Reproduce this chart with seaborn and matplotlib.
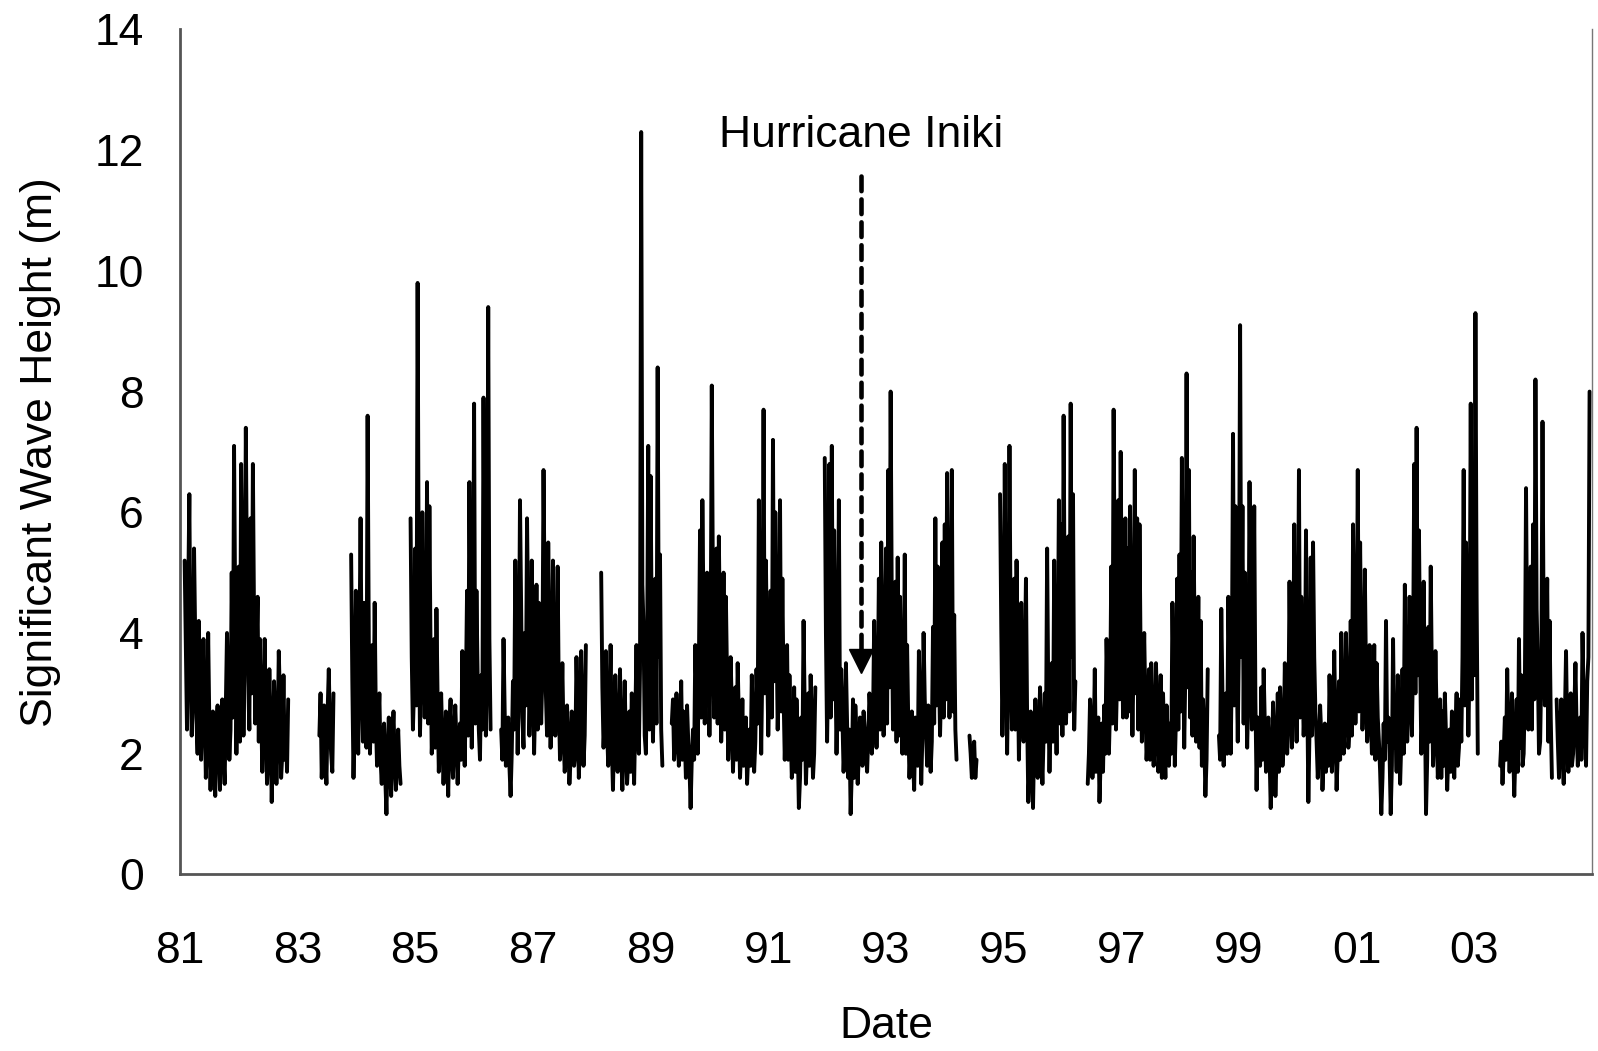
import numpy as np
import pandas as pd
import seaborn as sns
import matplotlib.pyplot as plt

# wave record, one short list per unbroken stretch of data
# (start as decimal year since 1900, values in m, main points 0.04 yr apart,
#  the mid_ lists hold the readings that fall half way between them)
STEP = 0.04
seg_starts = [81.08, 83.37, 83.91, 84.92, 86.46, 88.16, 89.36, 91.96, 94.42, 94.94, 96.43, 98.66, 103.44, 104.40]

hs_a = [5.2, 2.4, 6.3, 2.3, 5.4, 2.6, 4.2, 1.9, 3.9, 1.6, 4.0, 1.4, 2.7, 1.3, 2.8, 1.4, 2.9, 1.5, 4.0, 1.9,
        5.0, 7.1, 2.0, 5.1, 6.8, 2.3, 7.4, 3.2, 5.9, 6.8, 2.5, 4.6, 3.9, 1.7, 3.9, 1.5, 3.4, 1.2, 3.2, 1.5,
        3.7, 1.6, 3.3, 2.5, 2.9]
mid_a = [3.8, 4.6, 3.5, 2.9, 3.9, 2.0, 3.1, 2.6, 2.9, 2.2, 2.5, 2.3, 1.9, 2.5, 2.1, 2.6, 2.0, 2.8, 3.0, 2.4,
         2.6, 4.3, 3.6, 2.2, 5.0, 3.9, 4.8, 2.4, 3.0, 4.2, 3.6, 2.2, 2.8, 2.4, 2.6, 2.0, 2.4, 2.1, 2.5, 2.2,
         2.9, 2.0, 1.9, 1.7]
hs_b = [2.3, 1.6, 2.8, 1.5, 3.4, 2.0, 3.0]
mid_b = [3.0, 2.2, 2.0, 2.7, 2.4, 1.7]
hs_c = [5.3, 1.6, 4.7, 2.0, 5.9, 2.2, 3.5, 7.6, 2.0, 3.8, 4.5, 1.8, 3.0, 1.5, 2.5, 1.0, 2.6, 1.3, 2.7, 1.4,
        2.4, 1.5]
mid_c = [3.2, 2.6, 3.1, 3.6, 3.3, 4.5, 2.1, 3.9, 2.9, 2.2, 2.6, 2.4, 1.9, 2.3, 1.6, 2.0, 1.8, 2.2, 1.9, 2.0,
         1.8]
hs_d = [5.9, 2.4, 5.4, 9.8, 2.3, 6.0, 2.6, 6.5, 6.1, 2.0, 3.9, 4.4, 1.7, 3.0, 1.5, 2.7, 1.3, 2.9, 1.6, 2.8,
        1.5, 2.5, 3.7, 1.8, 4.7, 6.5, 2.1, 7.8, 4.7, 2.4, 3.3, 7.9, 2.3, 9.4, 2.4]
mid_d = [3.6, 3.1, 2.8, 4.5, 3.3, 4.0, 3.4, 2.5, 3.7, 2.6, 2.1, 2.9, 2.4, 2.2, 2.0, 2.1, 2.4, 2.0, 2.3, 2.2,
         2.1, 1.9, 2.6, 3.0, 2.3, 3.9, 3.4, 2.5, 3.3, 1.9, 2.4, 4.2, 3.5, 3.9]
hs_e = [2.4, 3.9, 1.8, 2.6, 1.3, 3.2, 5.2, 2.0, 6.2, 2.6, 4.0, 5.9, 2.3, 5.2, 2.0, 4.8, 4.5, 2.5, 6.7, 3.0,
        5.5, 2.1, 5.2, 2.3, 5.1, 1.9, 3.5, 1.7, 2.8, 1.5, 2.7, 1.8, 3.6, 1.6, 3.7, 1.8, 3.8]
mid_e = [1.9, 2.7, 2.2, 1.8, 2.0, 2.4, 3.8, 3.1, 4.4, 2.1, 2.8, 4.1, 3.2, 3.5, 2.9, 2.4, 3.6, 3.3, 4.5, 2.3,
         3.7, 3.0, 3.4, 3.1, 2.9, 2.5, 2.3, 2.1, 2.2, 1.9, 2.3, 2.0, 2.7, 2.2, 2.6, 2.3]
hs_f = [5.0, 2.1, 3.7, 1.8, 3.8, 1.4, 3.3, 1.7, 3.4, 1.4, 3.2, 1.5, 2.7, 3.0, 1.5, 3.8, 2.0, 12.3, 4.1, 2.0,
        7.1, 6.6, 2.2, 4.9, 8.4, 5.3, 1.8]
mid_f = [3.1, 2.6, 2.4, 2.7, 2.2, 2.3, 2.0, 2.5, 2.0, 2.3, 2.1, 1.9, 1.7, 2.2, 2.6, 2.4, 3.4, 4.8, 2.3, 3.6,
         2.4, 3.9, 3.3, 2.5, 3.6, 2.4]
hs_g = [2.5, 1.9, 3.0, 1.8, 3.2, 2.7, 1.6, 2.2, 1.1, 2.4, 3.8, 2.0, 5.7, 6.2, 2.5, 5.0, 2.3, 8.1, 2.6, 5.4,
        5.6, 2.2, 5.0, 4.6, 1.9, 3.6, 1.7, 3.1, 3.5, 1.6, 2.9, 2.3, 1.5, 2.4, 3.3, 1.7, 3.4, 6.2, 2.0, 7.7,
        5.2, 2.3, 4.7, 7.2, 6.0, 2.4, 6.2, 4.9, 1.9, 3.8, 3.3, 1.6, 3.1, 2.9, 1.1, 2.6, 4.2, 1.5, 3.0, 3.3,
        1.6, 3.1]
mid_g = [2.9, 2.2, 2.4, 2.1, 1.9, 2.3, 2.8, 1.8, 1.9, 1.9, 2.9, 3.4, 2.6, 4.3, 3.4, 3.8, 3.6, 4.6, 3.0, 2.5,
         3.9, 2.9, 2.4, 3.2, 2.4, 2.8, 2.3, 1.9, 2.6, 2.1, 1.8, 2.6, 2.0, 1.8, 2.5, 2.2, 2.5, 3.7, 3.5, 3.0,
         3.6, 3.1, 2.6, 3.2, 4.1, 3.3, 2.7, 3.0, 2.6, 1.9, 2.4, 2.0, 1.7, 2.2, 1.6, 1.9, 2.7, 2.1, 1.8, 2.5,
         2.0]
hs_h = [6.9, 2.2, 6.8, 7.1, 5.7, 2.0, 6.2, 3.4, 1.7, 3.5, 1.6, 1.0, 2.9, 2.8, 1.5, 2.6, 1.8, 2.4, 1.7, 3.0,
        2.0, 4.2, 2.1, 4.9, 5.5, 2.3, 5.4, 6.7, 8.0, 2.4, 4.85, 5.25, 4.6, 2.0, 5.3, 3.8, 1.6, 2.7, 1.4, 2.3,
        3.7, 1.5, 4.0, 2.4, 2.8, 1.7, 4.1, 5.9, 5.1, 2.3, 5.5, 5.8, 6.65, 2.6, 6.7, 4.3, 1.9]
mid_h = [4.0, 3.5, 2.6, 2.9, 3.6, 3.1, 2.4, 2.6, 2.2, 2.5, 2.4, 1.7, 1.6, 2.3, 2.0, 2.2, 2.7, 2.0, 2.3, 2.6,
         2.5, 3.0, 2.9, 2.4, 3.8, 3.2, 2.5, 3.1, 4.4, 3.0, 2.2, 2.3, 3.1, 2.8, 2.0, 2.5, 2.1, 1.9, 2.6, 1.8,
         2.6, 2.3, 2.9, 1.8, 2.4, 2.2, 2.5, 2.8, 3.5, 3.2, 2.6, 2.9, 4.2, 3.6, 2.7, 2.4]
hs_j = [2.3, 1.6, 2.2, 1.9]
mid_j = [2.0, 1.8, 1.6]
hs_i = [6.3, 2.3, 6.8, 2.0, 7.1, 2.4, 4.9, 5.2, 1.9, 4.5, 2.2, 4.9, 1.2, 2.7, 1.1, 2.9, 1.6, 3.1, 1.5, 3.0,
        5.4, 1.7, 3.5, 5.2, 2.0, 6.2, 5.8, 7.6, 2.5, 5.6, 7.8, 6.3, 3.2]
mid_i = [4.1, 3.6, 3.9, 3.4, 4.0, 3.3, 2.4, 3.6, 2.9, 3.0, 3.5, 2.6, 1.8, 1.9, 2.2, 2.0, 2.4, 2.1, 2.3, 2.2,
         2.9, 2.6, 2.2, 3.1, 3.4, 2.5, 2.3, 4.1, 3.2, 2.7, 3.6, 2.4]
hs_k1 = [1.5, 2.9, 1.6, 3.4, 2.4, 1.2, 2.5, 2.8, 3.9, 2.0, 5.1, 7.7, 2.4, 6.2, 7.0, 2.6, 5.9, 5.4, 6.1, 2.3,
         6.7, 5.9, 5.8, 2.2, 4.0, 1.9, 3.4, 3.5, 1.8, 3.5, 1.7, 3.3, 3.0, 1.6, 2.3, 2.5, 4.5, 1.8, 4.9, 5.3,
         6.9, 2.1, 8.3, 6.7, 5.0, 5.6, 2.2, 4.6, 4.2, 2.9, 1.3, 3.4]
mid_k1 = [2.0, 2.4, 2.1, 1.7, 2.6, 1.9, 1.7, 2.0, 3.0, 2.8, 2.5, 4.5, 3.3, 2.9, 4.2, 3.4, 2.6, 2.7, 3.8, 3.6,
          3.0, 2.4, 3.5, 2.9, 2.8, 2.3, 1.9, 2.6, 2.2, 2.7, 2.1, 1.6, 2.2, 2.8, 1.8, 2.0, 3.1, 2.6, 2.4, 2.7,
          4.0, 3.4, 3.1, 2.6, 2.3, 3.6, 2.9, 2.1, 1.8, 2.3, 1.9]
hs_k2 = [2.3, 4.4, 1.8, 3.0, 4.6, 2.0, 7.3, 6.1, 2.2, 9.1, 6.1, 5.0, 2.1, 6.5, 2.4, 6.1, 1.4, 2.3, 3.1, 3.4,
         1.7, 2.6, 1.1, 2.85, 1.3, 3.0, 3.1, 1.8, 3.5, 2.0, 4.85, 2.1, 5.8, 2.2, 6.7, 4.6, 2.3, 5.7, 1.2, 5.25,
         5.5, 2.7, 1.6, 2.8, 1.4, 2.5, 2.4, 3.3, 1.7, 3.7, 1.4, 3.2, 4.0, 2.0, 4.0, 2.1, 4.2, 5.8, 2.5, 6.7,
         5.5, 2.4, 5.05, 2.2, 3.8, 2.0, 3.8, 3.5, 2.2, 1.0, 2.5, 4.2, 2.6, 1.0, 3.9, 2.5, 3.3, 1.5, 3.4, 4.8,
         2.2, 4.6, 2.3, 6.8, 7.4, 5.7, 2.0, 4.85, 1.0, 4.1, 5.1, 1.8, 3.7, 1.6, 2.9, 2.7, 3.0, 1.4, 2.4, 2.7,
         1.6, 3.0, 2.1, 2.2, 6.7, 5.5, 2.3, 7.8, 6.1, 9.3, 2.0]
mid_k2 = [1.9, 3.0, 2.4, 2.0, 3.3, 3.5, 2.8, 3.7, 3.9, 3.6, 2.5, 3.4, 3.0, 4.1, 3.2, 2.9, 2.6, 1.8, 1.9, 2.5,
          2.2, 2.0, 1.8, 2.2, 1.9, 1.7, 2.4, 2.1, 2.7, 2.6, 3.2, 2.9, 3.8, 3.3, 2.6, 3.4, 2.9, 3.1, 2.4, 2.3,
          3.6, 2.2, 2.1, 2.3, 1.9, 1.7, 1.8, 2.4, 2.2, 2.6, 2.0, 1.9, 2.8, 2.6, 2.9, 2.4, 2.3, 3.9, 3.4, 2.7,
          3.5, 3.1, 3.3, 2.6, 2.7, 2.4, 1.9, 2.6, 1.7, 1.6, 1.9, 2.2, 2.0, 1.8, 2.1, 1.7, 2.5, 2.2, 2.0, 3.2,
          2.8, 3.3, 3.6, 3.0, 3.3, 3.6, 2.7, 2.9, 1.9, 2.2, 3.2, 2.3, 2.6, 2.0, 1.6, 1.8, 2.3, 2.0, 1.7, 2.2,
          2.4, 1.8, 2.9, 3.6, 2.8, 3.7, 3.5, 2.9, 3.3, 4.6]
hs_l = [1.8, 1.5, 2.6, 3.4, 1.7, 3.0, 1.3, 2.9, 3.9, 3.3, 2.0, 6.4, 2.4, 5.1, 5.8, 8.2, 3.5, 2.2, 7.5, 2.8,
        4.9, 4.2, 1.6]
mid_l = [2.2, 2.0, 1.9, 2.3, 2.2, 2.1, 2.0, 1.7, 2.1, 1.8, 3.1, 3.6, 3.3, 2.4, 2.9, 4.4, 2.0, 3.4, 3.9, 3.3,
         2.2, 2.6]
hs_m = [2.9, 1.6, 2.9, 1.5, 3.7, 1.7, 3.0, 2.0, 3.5, 1.8, 2.6, 4.0, 2.3, 3.2, 8.0]
mid_m = [2.2, 2.4, 2.0, 2.6, 2.3, 2.5, 1.8, 2.7, 2.4, 2.3, 1.9, 2.9, 1.8, 3.6]

seg_values = [hs_a, hs_b, hs_c, hs_d, hs_e, hs_f, hs_g, hs_h, hs_j, hs_i, hs_k1, hs_k2, hs_l, hs_m]
seg_mids = [mid_a, mid_b, mid_c, mid_d, mid_e, mid_f, mid_g, mid_h, mid_j, mid_i, mid_k1, mid_k2, mid_l, mid_m]

year_ticks = [81, 83, 85, 87, 89, 91, 93, 95, 97, 99, 101, 103]
year_labels = ['81', '83', '85', '87', '89', '91', '93', '95', '97', '99', '01', '03']
hs_ticks = [0, 2, 4, 6, 8, 10, 12, 14]

# Hurricane Iniki marker
iniki_year = 92.58
iniki_top = 11.65
iniki_tip = 3.54
iniki_text_y = 12.25

rows = []
for n, (start, vals, mids) in enumerate(zip(seg_starts, seg_values, seg_mids)):
    for i, v in enumerate(vals):
        rows.append((start + STEP * i, v, n))
        if i < len(mids) and i < len(vals) - 1:
            rows.append((start + STEP * (i + 0.5), mids[i], n))
df = pd.DataFrame(rows, columns=['year', 'hs', 'seg'])

sns.set_style("white")
plt.rcParams['font.family'] = ['Liberation Sans', 'DejaVu Sans']
plt.rcParams['text.color'] = 'black'
plt.rcParams['axes.labelcolor'] = 'black'
plt.rcParams['xtick.color'] = 'black'
plt.rcParams['ytick.color'] = 'black'

fig = plt.figure(figsize=(15.98, 10.51), dpi=100)
ax = fig.add_axes([0.1126, 0.168, 0.8836, 0.804])

sns.lineplot(data=df, x='year', y='hs', units='seg', estimator=None, sort=False,
             color='black', linewidth=2.8, ax=ax)

# dashed arrow pointing at the storm
ax.plot([iniki_year, iniki_year], [iniki_tip + 0.2, iniki_top], color='black',
        linewidth=3.3, linestyle=(0, (3.2, 1.8)), dash_capstyle='round')
ax.plot([iniki_year], [iniki_tip], marker='v', markersize=17, color='black', linestyle='none')
ax.text(iniki_year, iniki_text_y, 'Hurricane Iniki', ha='center', va='center', fontsize=32)

ax.set_xlim(81, 105)
ax.set_ylim(0, 14)
ax.set_xticks(year_ticks)
ax.set_xticklabels(year_labels)
ax.set_yticks(hs_ticks)
ax.tick_params(axis='x', direction='out', length=7, width=1.5, pad=34, labelsize=32, color='#555555')
ax.tick_params(axis='y', direction='out', length=8, width=1.5, pad=18, labelsize=32, color='#555555')
ax.set_xlabel('Date', fontsize=32, labelpad=24)
ax.set_ylabel('Significant Wave Height (m)', fontsize=32, labelpad=24)

for side in ['left', 'bottom']:
    ax.spines[side].set_color('#555555')
    ax.spines[side].set_linewidth(2)
ax.spines['top'].set_visible(False)
ax.spines['right'].set_color('#777777')
ax.spines['right'].set_linewidth(1)

fig.savefig('out.png', dpi=100)
